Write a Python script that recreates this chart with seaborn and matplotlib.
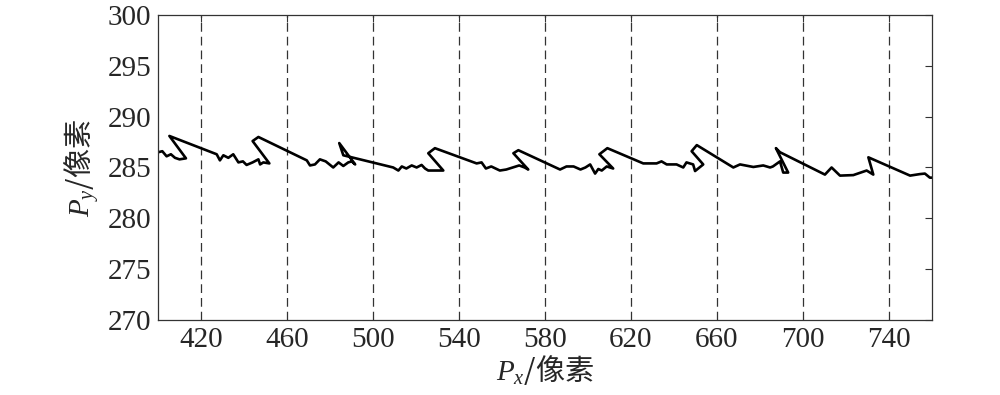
import numpy as np
import pandas as pd
import matplotlib
matplotlib.use("Agg")
import matplotlib.pyplot as plt
import seaborn as sns

# === DATA ===
px = [400.1, 402, 404, 406, 407.9, 410, 413,
      405.3,
      427.3, 428.8, 430.4, 432.7, 435, 437.4, 439.5, 441.2, 444, 446.7, 447.5, 449, 451.8,
      444, 446.7,
      469.2, 470.7, 473, 475.3, 478, 481.5, 484, 486.2, 488.5, 490.1, 491.7,
      484.3, 486.2,
      509.4, 511.8, 513.4, 515.5, 518, 520.3, 522.6, 524.2, 525.7, 532.7,
      525.7, 528.8,
      548.2, 550.5, 552.5, 555, 559, 562, 565, 568, 570.5, 572.2,
      565.3, 567.6,
      587, 590, 593.3, 596.5, 598.8, 601, 603.3, 604.8, 606.4, 608.7, 611.7,
      605.3, 609,
      625.7, 631.9, 634.2, 636.6, 641.2, 644.3, 645.8, 648.9, 649.8, 653.6,
      648.2, 650.6,
      667.6, 670.7, 676.9, 681.5, 684.7, 686, 689.3, 690.8, 693.1,
      687.4, 689.3,
      710.2, 713.3, 717.2, 723.4, 729.6, 732.7,
      730.4,
      749.8, 754.4, 756.7, 759, 760]
py = [286.5, 286.6, 286.1, 286.3, 285.95, 285.8, 285.9,
      288.1,
      286.3, 285.7, 286.2, 285.95, 286.3, 285.5, 285.6, 285.25, 285.5, 285.8, 285.3, 285.5, 285.4,
      287.6, 288.0,
      285.7, 285.2, 285.3, 285.8, 285.6, 285.0, 285.5, 285.15, 285.5, 285.6, 285.3,
      287.4, 286.2,
      285.0, 284.7, 285.1, 284.9, 285.2, 285.0, 285.25, 284.9, 284.7, 284.7,
      286.4, 286.9,
      285.4, 285.5, 284.9, 285.1, 284.7, 284.8, 285.0, 285.2, 285.0, 284.8,
      286.4, 286.7,
      284.8, 285.1, 285.1, 284.8, 285.0, 285.3, 284.4, 284.85, 284.7, 285.1, 284.9,
      286.3, 286.9,
      285.4, 285.4, 285.6, 285.3, 285.3, 285.0, 285.5, 285.3, 284.65, 285.3,
      286.6, 287.2,
      285.0, 285.3, 285.05, 285.2, 285.0, 285.1, 285.6, 284.5, 284.5,
      286.9, 286.5,
      284.3, 285.0, 284.2, 284.25, 284.7, 284.3,
      286.0,
      284.2, 284.35, 284.4, 284.0, 284.0]
x_ticks = [420, 460, 500, 540, 580, 620, 660, 700, 740]
y_ticks = [270, 275, 280, 285, 290, 295, 300]

df = pd.DataFrame({"Px": px, "Py": py, "step": np.arange(len(px))})

# === STYLE ===
sns.set_theme(style="white")
plt.rcParams["font.family"] = ["Liberation Serif", "Noto Sans CJK SC"]
plt.rcParams["mathtext.fontset"] = "custom"
plt.rcParams["mathtext.rm"] = "Liberation Serif"
plt.rcParams["mathtext.it"] = "Liberation Serif:italic"

fig = plt.figure(figsize=(10, 3.95), dpi=100)
ax = fig.add_axes([0.158, 0.19, 0.774, 0.772])

sns.lineplot(data=df, x="Px", y="Py", sort=False, estimator=None,
             color="black", linewidth=1.9, ax=ax)

for xv in x_ticks:
    ax.axvline(xv, color="#333333", linestyle=(0, (7, 4)), linewidth=0.9, zorder=0)

ax.set_xlim(400, 760)
ax.set_ylim(270, 300)
ax.set_xticks(x_ticks)
ax.set_yticks(y_ticks)
ax.tick_params(direction="in", length=5, width=0.8, color="#333333",
               top=True, right=True, labelsize=21, pad=5)
for s in ax.spines.values():
    s.set_color("#333333")
    s.set_linewidth(0.9)

# non-math part of the label is drawn in the text's own font, so give it the CJK family
ax.set_xlabel("$P_x$/像素", fontsize=21, fontfamily="Noto Sans CJK SC", labelpad=0)
ax.set_ylabel("$P_y$/像素", fontsize=21, fontfamily="Noto Sans CJK SC", labelpad=4)

fig.savefig("out.png", dpi=100)
